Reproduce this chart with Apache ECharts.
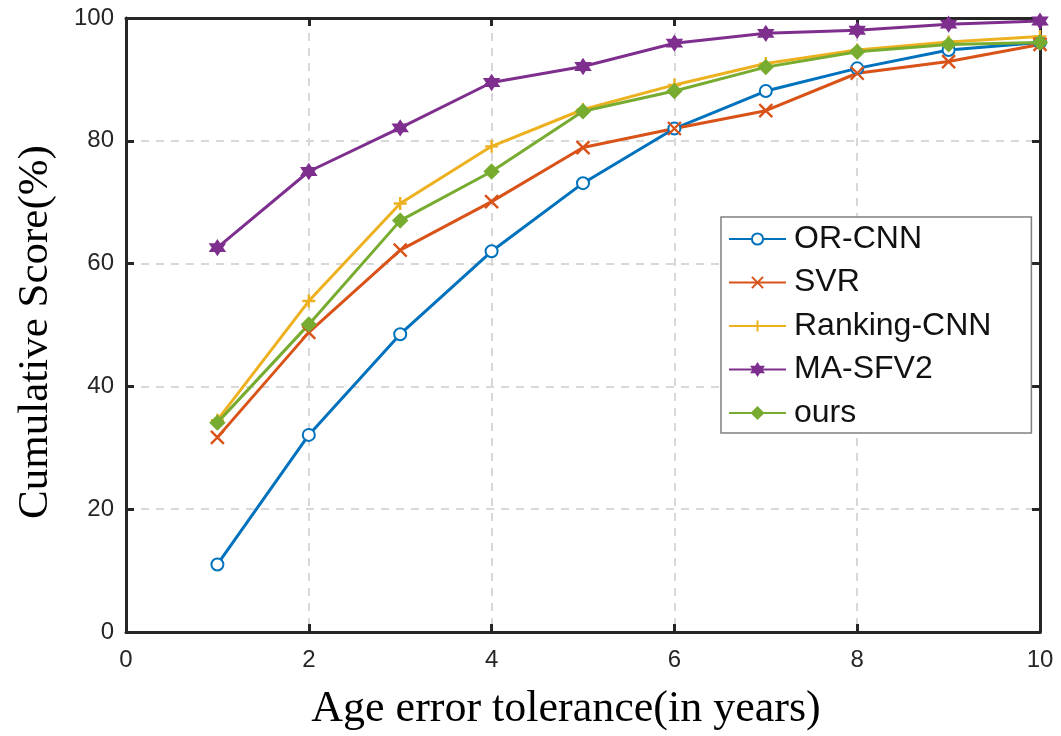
<!DOCTYPE html>
<html>
<head>
<meta charset="utf-8">
<script src="https://cdn.jsdelivr.net/npm/echarts@6/dist/echarts.min.js"></script>
<style>
  html, body { margin: 0; padding: 0; background: #fff; }
  #main { width: 1061px; height: 736px; }
</style>
</head>
<body>
<div id="main"></div>
<script>
// tolerance in years
var tolerance = [1, 2, 3, 4, 5, 6, 7, 8, 9, 10];

// cumulative score (%) per method
var orCnn     = [11, 32.1, 48.5, 62, 73.1, 82, 88.1, 91.8, 94.8, 96];
var svr       = [31.7, 48.8, 62.2, 70.1, 78.9, 82, 84.9, 91, 92.9, 95.7];
var rankCnn   = [34.5, 53.9, 69.8, 79.1, 85.1, 89.1, 92.6, 94.8, 96.1, 97];
var maSfv2    = [62.6, 75, 82.1, 89.5, 92.1, 95.9, 97.5, 98, 99, 99.5];
var ours      = [34.1, 50.1, 67, 75, 84.8, 88.1, 92, 94.5, 95.7, 96];

var hexagram = 'path://M100,0L128.9,50L186.6,50L157.7,100L186.6,150L128.9,150L100,200L71.1,150L13.4,150L42.3,100L13.4,50L71.1,50Z';
var crossX = 'path://M0,0L10,10M10,0L0,10';
var plus = 'path://M5,0L5,10M0,5L10,5';

function pairs(vals) {
  return tolerance.map(function (t, i) { return [t, vals[i]]; });
}

function makeSeries(name, vals, color, symbol, size) {
  return {
    name: name,
    type: 'line',
    data: pairs(vals),
    symbol: symbol,
    symbolSize: size,
    showAllSymbol: true,
    lineStyle: { color: color, width: 3 },
    itemStyle: { color: color, borderColor: color, borderWidth: 2.4 },
    emphasis: { disabled: true },
    animation: false
  };
}

var axisColor = '#262626';
var gridLine = { show: true, lineStyle: { color: '#d8d8d8', width: 2, type: [8, 7] } };
var boxLine = { show: true, onZero: false, lineStyle: { color: axisColor, width: 3 } };
var boxTick = { show: true, inside: true, length: 8, lineStyle: { color: axisColor, width: 3 } };

var myChart = echarts.init(document.getElementById('main'));

myChart.setOption({
  backgroundColor: '#fff',
  grid: { left: 126, right: 21, top: 18, bottom: 103 },
  legend: {
    orient: 'vertical',
    left: 721,
    top: 217,
    itemWidth: 57,
    itemHeight: 14,
    itemGap: 11.5,
    padding: [6, 40, 4, 7],
    backgroundColor: '#fff',
    borderColor: '#808080',
    borderWidth: 1.5,
    textStyle: { fontFamily: 'Liberation Sans, Arial', fontSize: 32, color: '#111', padding: [0, 0, 0, 3] },
    data: ['OR-CNN', 'SVR', 'Ranking-CNN', 'MA-SFV2', 'ours']
  },
  xAxis: [{
    type: 'value',
    min: 0, max: 10, interval: 2,
    name: 'Age error tolerance(in years)',
    nameLocation: 'middle',
    nameGap: 55,
    nameTextStyle: { fontFamily: 'Liberation Serif, Times New Roman', fontSize: 44, color: '#000', padding: [0, 34, 0, 0] },
    axisLine: boxLine,
    axisTick: boxTick,
    axisLabel: { fontFamily: 'Liberation Sans, Arial', fontSize: 24, color: axisColor, margin: 16 },
    splitLine: gridLine
  }, {
    type: 'value',
    position: 'top',
    min: 0, max: 10, interval: 2,
    axisLine: boxLine,
    axisTick: boxTick,
    axisLabel: { show: false },
    splitLine: { show: false }
  }],
  yAxis: [{
    type: 'value',
    min: 0, max: 100, interval: 20,
    name: 'Cumulative Score(%)',
    nameLocation: 'middle',
    nameGap: 69,
    nameTextStyle: { fontFamily: 'Liberation Serif, Times New Roman', fontSize: 43, color: '#000', padding: [0, 14, 0, 0] },
    axisLine: boxLine,
    axisTick: boxTick,
    axisLabel: { fontFamily: 'Liberation Sans, Arial', fontSize: 24, color: axisColor, margin: 12 },
    splitLine: gridLine
  }, {
    type: 'value',
    position: 'right',
    min: 0, max: 100, interval: 20,
    axisLine: boxLine,
    axisTick: boxTick,
    axisLabel: { show: false },
    splitLine: { show: false }
  }],
  series: [
    makeSeries('OR-CNN', orCnn, '#0072BD', 'emptyCircle', 12),
    makeSeries('SVR', svr, '#D95319', crossX, 13),
    makeSeries('Ranking-CNN', rankCnn, '#EDB120', plus, 13),
    makeSeries('MA-SFV2', maSfv2, '#7E2F8E', hexagram, 13),
    makeSeries('ours', ours, '#77AC30', 'diamond', 13)
  ]
});
</script>
</body>
</html>
